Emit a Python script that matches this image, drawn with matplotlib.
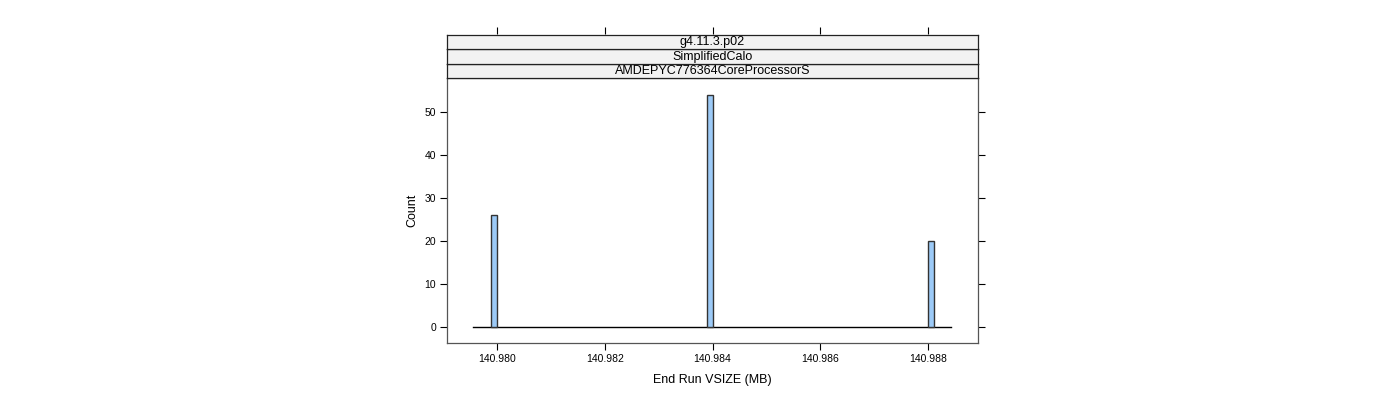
import matplotlib.pyplot as plt

plt.rcParams['font.family'] = ['Liberation Sans', 'DejaVu Sans']

# histogram data (bin edges in MB, counts)
bin_left = [140.97989, 140.98389, 140.98800]
bin_width = 0.00011
counts = [26, 54, 20]
range_lo, range_hi = 140.97956, 140.98843
strips = ['g4.11.3.p02', 'SimplifiedCalo', 'AMDEPYC776364CoreProcessorS']
xticks = [140.980, 140.982, 140.984, 140.986, 140.988]
yticks = [0, 10, 20, 30, 40, 50]

fig = plt.figure(figsize=(14, 4), dpi=100)
ax = fig.add_axes([447/1400, 57/400, 531/1400, 265/400])

ax.bar(bin_left, counts, width=bin_width, align='edge',
       color='#9ccaf7', edgecolor='#333333', linewidth=1.0, zorder=3)
ax.plot([range_lo, range_hi], [0, 0], color='black', linewidth=1.0, zorder=2)

ax.set_xlim(140.97907, 140.98893)
ax.set_ylim(-3.72, 57.9)
ax.set_xticks(xticks)
ax.set_xticklabels(['%.3f' % v for v in xticks])
ax.set_yticks(yticks)
ax.tick_params(axis='both', direction='out', length=5, width=0.8,
               labelsize=7.5, colors='black', top=True, right=True,
               labeltop=False, labelright=False, pad=3)
ax.tick_params(axis='x', top=False)
for s in ax.spines.values():
    s.set_color('#555555')
    s.set_linewidth(0.9)
ax.set_xlabel('End Run VSIZE (MB)', fontsize=9, labelpad=7)
ax.set_ylabel('Count', fontsize=9, labelpad=4)

# strips above panel
strip_h = 14.5 / 400
y0 = 322 / 400
for i, name in enumerate(reversed(strips)):
    sax = fig.add_axes([447/1400, y0 + i * strip_h, 531/1400, strip_h])
    sax.set_facecolor('#f2f2f2')
    sax.set_xticks([])
    sax.set_yticks([])
    for s in sax.spines.values():
        s.set_color('#222222')
        s.set_linewidth(0.9)
    sax.text(0.5, 0.45, name, ha='center', va='center', fontsize=9,
             transform=sax.transAxes)

# top ticks above the strips
tax = fig.add_axes([447/1400, y0 + 3 * strip_h, 531/1400, 0.001])
tax.set_xlim(ax.get_xlim())
tax.set_xticks(xticks)
tax.set_yticks([])
for s in tax.spines.values():
    s.set_visible(False)
tax.tick_params(axis='x', bottom=False, labelbottom=False, top=True,
                labeltop=False, direction='out', length=5, width=0.8)
tax.patch.set_alpha(0)

fig.savefig('out.png', dpi=100)
